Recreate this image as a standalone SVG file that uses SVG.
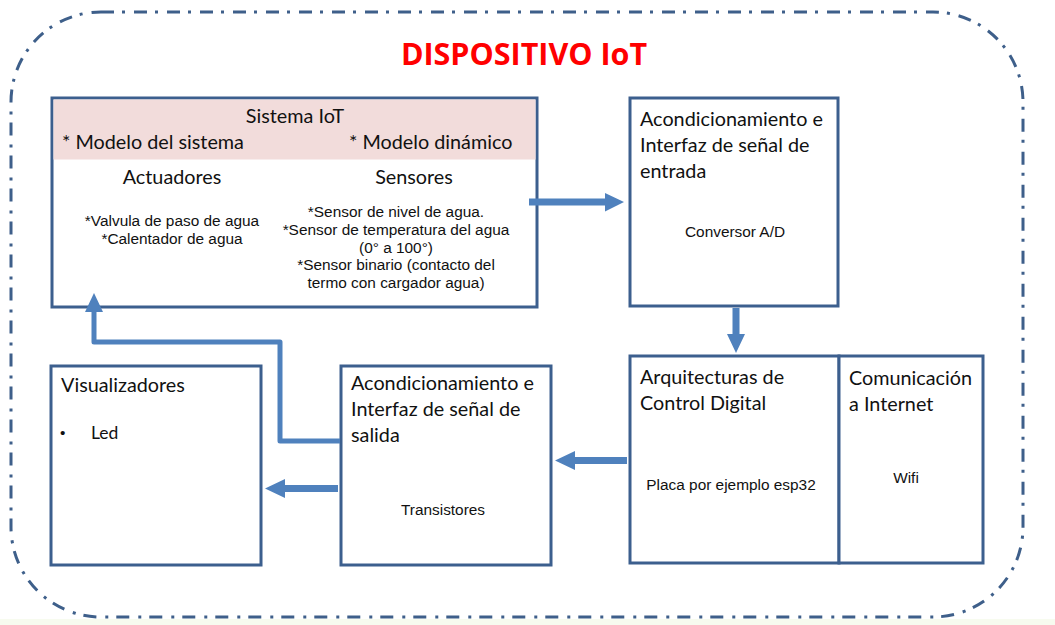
<svg xmlns="http://www.w3.org/2000/svg" width="1055" height="625" viewBox="0 0 1055 625">
<style>
.box{fill:#ffffff;stroke:#3c5f8e;stroke-width:3}
.hd{font-family:Lato,"Open Sans",sans-serif;font-size:19.8px;fill:#111}
.sm{font-family:"Liberation Sans",Arial,sans-serif;font-size:15.4px;fill:#111}
.ar{fill:#4f81bd}
.ln{fill:none;stroke:#4f81bd;stroke-width:5;stroke-linejoin:round}
</style>
<rect x="0" y="0" width="1055" height="625" fill="#ffffff"/>
<rect x="0" y="619" width="1055" height="6" fill="#f7fbef"/>
<rect id="frame" x="11" y="12" width="1012" height="605" rx="90" ry="90" fill="none" stroke="#3e5f8a" stroke-width="3" stroke-dasharray="13 8 3 9"/>
<text x="524" y="65" text-anchor="middle" font-family="'Open Sans',sans-serif" font-weight="bold" font-size="30.5" fill="#ff0000">DISPOSITIVO IoT</text>

<g id="sistema">
<rect class="box" x="52" y="98" width="485" height="209"/>
<rect x="53.5" y="99.5" width="482" height="60" fill="#f2dcdb"/>
<text class="hd" x="295" y="123" text-anchor="middle">Sistema IoT</text>
<text class="hd" x="62" y="149">* Modelo del sistema</text>
<text class="hd" x="349" y="149">* Modelo dinámico</text>
<text class="hd" x="172" y="184" text-anchor="middle">Actuadores</text>
<text class="hd" x="414" y="184" text-anchor="middle">Sensores</text>
<text class="sm" x="172" y="226" text-anchor="middle">*Valvula de paso de agua</text>
<text class="sm" x="172" y="244" text-anchor="middle">*Calentador de agua</text>
<text class="sm" x="396" y="217" text-anchor="middle">*Sensor de nivel de agua.</text>
<text class="sm" x="396" y="235" text-anchor="middle">*Sensor de temperatura del agua</text>
<text class="sm" x="396" y="253" text-anchor="middle">(0° a 100°)</text>
<text class="sm" x="396" y="270" text-anchor="middle">*Sensor binario (contacto del</text>
<text class="sm" x="396" y="288" text-anchor="middle">termo con cargador agua)</text>
</g>

<g id="entrada">
<rect class="box" x="630" y="98" width="208" height="208"/>
<text class="hd" x="640" y="126">Acondicionamiento e</text>
<text class="hd" x="640" y="152">Interfaz de señal de</text>
<text class="hd" x="640" y="178">entrada</text>
<text class="sm" x="735" y="237" text-anchor="middle">Conversor A/D</text>
</g>

<g id="arquitecturas">
<rect class="box" x="630" y="356" width="209" height="207"/>
<text class="hd" x="640" y="384">Arquitecturas de</text>
<text class="hd" x="640" y="410">Control Digital</text>
<text class="sm" x="731" y="490" text-anchor="middle">Placa por ejemplo esp32</text>
</g>

<g id="comunicacion">
<rect class="box" x="839" y="356" width="144" height="207"/>
<text class="hd" x="849" y="385">Comunicación</text>
<text class="hd" x="849" y="411">a Internet</text>
<text class="sm" x="906" y="483" text-anchor="middle">Wifi</text>
</g>

<g id="salida">
<rect class="box" x="341" y="366" width="210" height="199"/>
<text class="hd" x="351" y="390">Acondicionamiento e</text>
<text class="hd" x="351" y="416">Interfaz de señal de</text>
<text class="hd" x="351" y="442">salida</text>
<text class="sm" x="443" y="515" text-anchor="middle">Transistores</text>
</g>

<g id="visualizadores">
<rect class="box" x="51" y="366" width="210" height="199"/>
<text class="hd" x="61" y="392">Visualizadores</text>
<text class="sm" x="60" y="438">•</text>
<text class="hd" x="91" y="439" style="font-size:17.5px">Led</text>
</g>

<g id="connectors">
<path class="ar" d="M529,198.5 H605 V193 L624,202 L605,211.5 V205.5 H529 Z"/>
<path class="ar" d="M732.5,308 V334 H727 L736,353 L745,334 H739.5 V308 Z"/>
<path class="ar" d="M627,457 H575 V451 L555,460.5 L575,470 V464 H627 Z"/>
<path class="ar" d="M338,485 H285 V479 L265,488.5 L285,498 V492 H338 Z"/>
<polyline class="ln" points="340,441 280,441 280,342 94,342 94,310"/>
<path class="ar" d="M85,312 L94,293 L103,312 Z"/>
</g>
</svg>
